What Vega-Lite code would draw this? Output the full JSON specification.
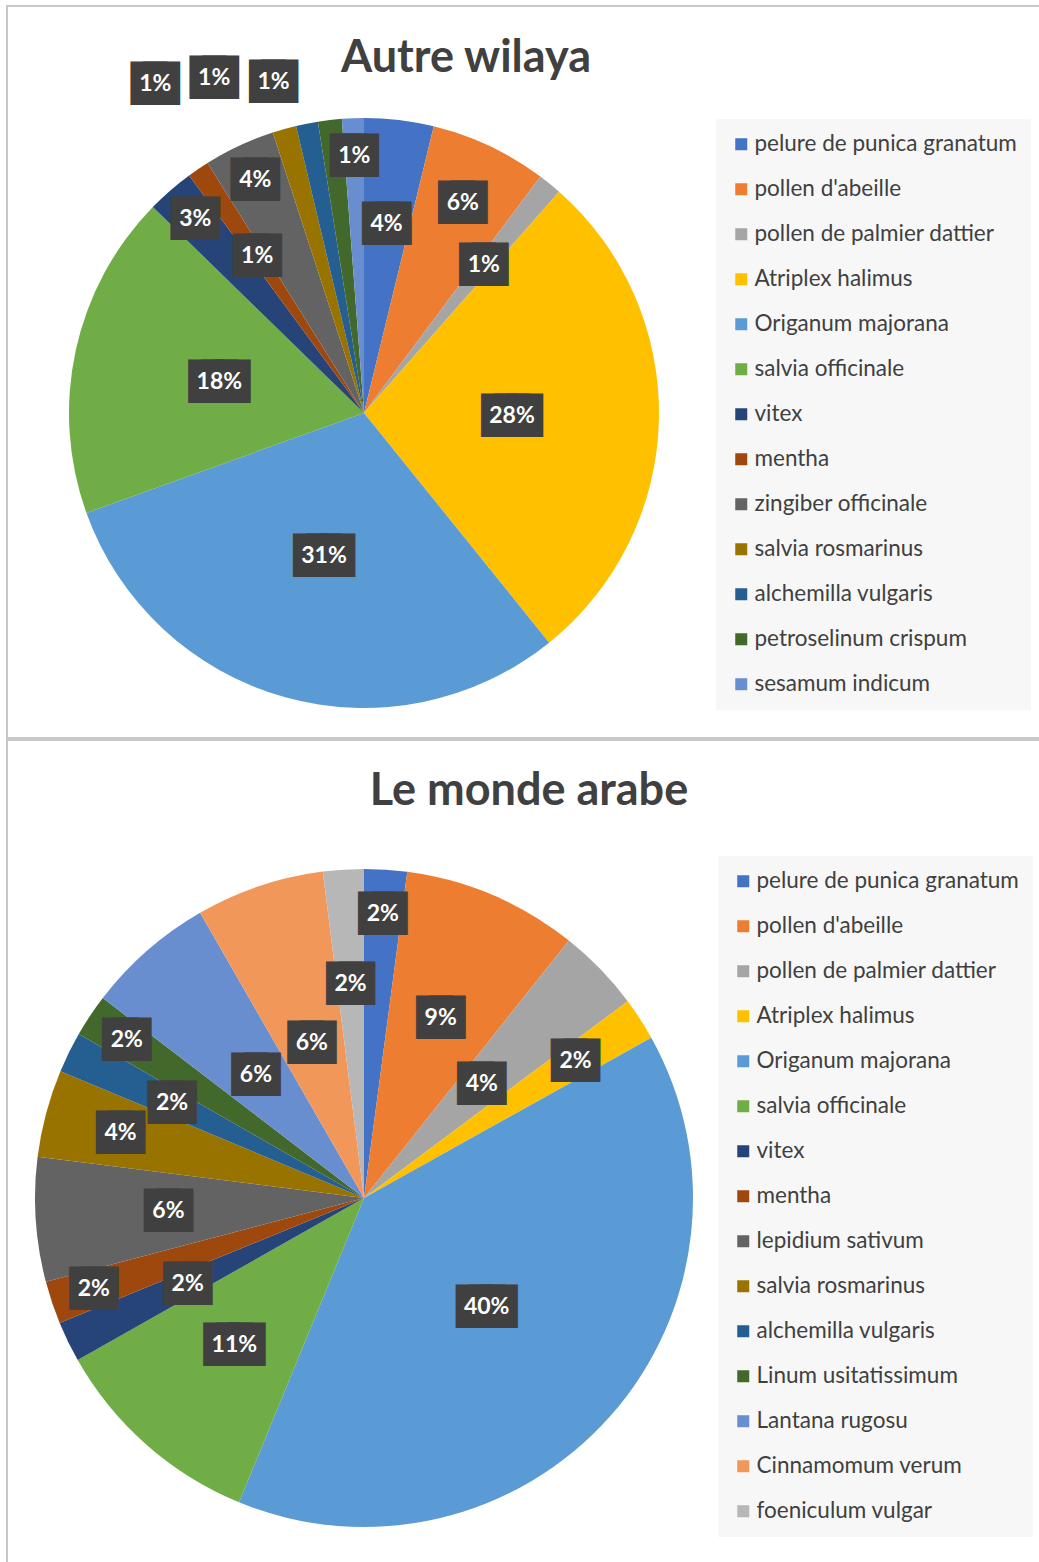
{
 "$schema": "https://vega.github.io/schema/vega-lite/v6.json",
 "background": "white",
 "padding": {"left": 6, "top": 5, "right": 0, "bottom": 0},
 "spacing": 0,
 "datasets": {
  "top": [
   {"name": "pelure de punica granatum", "value": 3.8, "pct": 4},
   {"name": "pollen d'abeille", "value": 6.4, "pct": 6},
   {"name": "pollen de palmier dattier", "value": 1.3, "pct": 1},
   {"name": "Atriplex halimus", "value": 27.7, "pct": 28},
   {"name": "Origanum majorana", "value": 30.3, "pct": 31},
   {"name": "salvia officinale", "value": 17.8, "pct": 18},
   {"name": "vitex", "value": 2.6, "pct": 3},
   {"name": "mentha", "value": 1.2, "pct": 1},
   {"name": "zingiber officinale", "value": 3.9, "pct": 4},
   {"name": "salvia rosmarinus", "value": 1.3, "pct": 1},
   {"name": "alchemilla vulgaris", "value": 1.2, "pct": 1},
   {"name": "petroselinum crispum", "value": 1.3, "pct": 1},
   {"name": "sesamum indicum", "value": 1.2, "pct": 1}
  ],
  "bottom": [
   {"name": "pelure de punica granatum", "value": 2.1, "pct": 2},
   {"name": "pollen d'abeille", "value": 8.6, "pct": 9},
   {"name": "pollen de palmier dattier", "value": 4.1, "pct": 4},
   {"name": "Atriplex halimus", "value": 2.1, "pct": 2},
   {"name": "Origanum majorana", "value": 39.3, "pct": 40},
   {"name": "salvia officinale", "value": 10.6, "pct": 11},
   {"name": "vitex", "value": 2.0, "pct": 2},
   {"name": "mentha", "value": 2.1, "pct": 2},
   {"name": "lepidium sativum", "value": 6.1, "pct": 6},
   {"name": "salvia rosmarinus", "value": 4.3, "pct": 4},
   {"name": "alchemilla vulgaris", "value": 2.0, "pct": 2},
   {"name": "Linum usitatissimum", "value": 2.1, "pct": 2},
   {"name": "Lantana rugosu", "value": 6.3, "pct": 6},
   {"name": "Cinnamomum verum", "value": 6.3, "pct": 6},
   {"name": "foeniculum vulgar", "value": 2.0, "pct": 2}
  ]
 },
 "vconcat": [
  {
   "width": 1034, "height": 732,
   "view": {"stroke": "#c8c8c8", "strokeWidth": 2},
   "title": {"text": "Autre wilaya", "font": "Lato", "fontSize": 45, "fontWeight": "bold", "color": "#404040", "anchor": "middle", "offset": -75, "dx": -58},
   "data": {"name": "top"},
   "transform": [
    {"window": [{"op": "row_number", "as": "idx"}]},
    {"stack": "value", "groupby": [], "sort": [{"field": "idx", "order": "ascending"}], "as": ["start", "end"]},
    {"calculate": "(datum.start + datum.end) / 2", "as": "mid"},
    {"calculate": "datum.pct + '%'", "as": "label"},
    {"calculate": "length(datum.label) > 2 ? '███' : '██'", "as": "box"}
   ],
   "layer": [
    {
     "mark": {"type": "arc", "x": 357, "y": 407, "outerRadius": 295},
     "encoding": {
      "theta": {"field": "start", "type": "quantitative", "stack": null, "scale": {"domain": [0, 100]}},
      "theta2": {"field": "end"},
      "color": {"field": "name", "type": "nominal",
       "scale": {"domain": ["pelure de punica granatum", "pollen d'abeille", "pollen de palmier dattier", "Atriplex halimus", "Origanum majorana", "salvia officinale", "vitex", "mentha", "zingiber officinale", "salvia rosmarinus", "alchemilla vulgaris", "petroselinum crispum", "sesamum indicum"],
        "range": ["#4472C4", "#ED7D31", "#A5A5A5", "#FFC000", "#5B9BD5", "#70AD47", "#264478", "#9E480E", "#636363", "#997300", "#255E91", "#43682B", "#698ED0"]},
       "legend": {"orient": "none", "legendX": 709, "legendY": 113}}
     }
    },
    {
     "transform": [{"filter": {"field": "name", "oneOf": ["Atriplex halimus", "Origanum majorana", "salvia officinale"]}}],
     "encoding": {"theta": {"field": "mid", "type": "quantitative", "stack": null, "scale": {"domain": [0, 100]}}},
     "layer": [
      {"mark": {"type": "text", "x": 357, "y": 407, "radius": 148, "font": "DejaVu Sans", "fontSize": 16.5, "color": "#404040", "stroke": "#404040", "strokeWidth": 24, "strokeJoin": "miter", "align": "center", "baseline": "middle"}, "encoding": {"text": {"field": "box"}}},
      {"mark": {"type": "text", "x": 357, "y": 407, "radius": 148, "font": "Lato", "fontSize": 23, "fontWeight": "bold", "color": "white", "align": "center", "baseline": "middle"}, "encoding": {"text": {"field": "label"}}}
     ]
    },
    {
     "transform": [{"filter": {"field": "name", "oneOf": ["pelure de punica granatum", "pollen de palmier dattier", "mentha"]}}],
     "encoding": {"theta": {"field": "mid", "type": "quantitative", "stack": null, "scale": {"domain": [0, 100]}}},
     "layer": [
      {"mark": {"type": "text", "x": 357, "y": 407, "radius": 190, "font": "DejaVu Sans", "fontSize": 16.5, "color": "#404040", "stroke": "#404040", "strokeWidth": 24, "strokeJoin": "miter", "align": "center", "baseline": "middle"}, "encoding": {"text": {"field": "box"}}},
      {"mark": {"type": "text", "x": 357, "y": 407, "radius": 190, "font": "Lato", "fontSize": 23, "fontWeight": "bold", "color": "white", "align": "center", "baseline": "middle"}, "encoding": {"text": {"field": "label"}}}
     ]
    },
    {
     "transform": [{"filter": {"field": "name", "oneOf": ["pollen d'abeille"]}}],
     "encoding": {"theta": {"field": "mid", "type": "quantitative", "stack": null, "scale": {"domain": [0, 100]}}},
     "layer": [
      {"mark": {"type": "text", "x": 357, "y": 407, "radius": 232, "font": "DejaVu Sans", "fontSize": 16.5, "color": "#404040", "stroke": "#404040", "strokeWidth": 24, "strokeJoin": "miter", "align": "center", "baseline": "middle"}, "encoding": {"text": {"field": "box"}}},
      {"mark": {"type": "text", "x": 357, "y": 407, "radius": 232, "font": "Lato", "fontSize": 23, "fontWeight": "bold", "color": "white", "align": "center", "baseline": "middle"}, "encoding": {"text": {"field": "label"}}}
     ]
    },
    {
     "transform": [{"filter": {"field": "name", "oneOf": ["vitex", "zingiber officinale", "sesamum indicum"]}}],
     "encoding": {"theta": {"field": "mid", "type": "quantitative", "stack": null, "scale": {"domain": [0, 100]}}},
     "layer": [
      {"mark": {"type": "text", "x": 357, "y": 407, "radius": 257, "font": "DejaVu Sans", "fontSize": 16.5, "color": "#404040", "stroke": "#404040", "strokeWidth": 24, "strokeJoin": "miter", "align": "center", "baseline": "middle"}, "encoding": {"text": {"field": "box"}}},
      {"mark": {"type": "text", "x": 357, "y": 407, "radius": 257, "font": "Lato", "fontSize": 23, "fontWeight": "bold", "color": "white", "align": "center", "baseline": "middle"}, "encoding": {"text": {"field": "label"}}}
     ]
    },
    {
     "transform": [{"filter": {"field": "name", "oneOf": ["salvia rosmarinus"]}}],
     "encoding": {"theta": {"field": "mid", "type": "quantitative", "stack": null, "scale": {"domain": [0, 100]}}},
     "layer": [
      {"mark": {"type": "text", "x": 357, "y": 407, "radius": 340, "dx": -117, "dy": -2, "font": "DejaVu Sans", "fontSize": 16.5, "color": "#404040", "stroke": "#404040", "strokeWidth": 24, "strokeJoin": "miter", "align": "center", "baseline": "middle"}, "encoding": {"text": {"field": "box"}}},
      {"mark": {"type": "text", "x": 357, "y": 407, "radius": 340, "dx": -117, "dy": -2, "font": "Lato", "fontSize": 23, "fontWeight": "bold", "color": "white", "align": "center", "baseline": "middle"}, "encoding": {"text": {"field": "label"}}}
     ]
    },
    {
     "transform": [{"filter": {"field": "name", "oneOf": ["alchemilla vulgaris"]}}],
     "encoding": {"theta": {"field": "mid", "type": "quantitative", "stack": null, "scale": {"domain": [0, 100]}}},
     "layer": [
      {"mark": {"type": "text", "x": 357, "y": 407, "radius": 340, "dx": -84, "dy": -1, "font": "DejaVu Sans", "fontSize": 16.5, "color": "#404040", "stroke": "#404040", "strokeWidth": 24, "strokeJoin": "miter", "align": "center", "baseline": "middle"}, "encoding": {"text": {"field": "box"}}},
      {"mark": {"type": "text", "x": 357, "y": 407, "radius": 340, "dx": -84, "dy": -1, "font": "Lato", "fontSize": 23, "fontWeight": "bold", "color": "white", "align": "center", "baseline": "middle"}, "encoding": {"text": {"field": "label"}}}
     ]
    },
    {
     "transform": [{"filter": {"field": "name", "oneOf": ["petroselinum crispum"]}}],
     "encoding": {"theta": {"field": "mid", "type": "quantitative", "stack": null, "scale": {"domain": [0, 100]}}},
     "layer": [
      {"mark": {"type": "text", "x": 357, "y": 407, "radius": 340, "dx": -51, "dy": 7, "font": "DejaVu Sans", "fontSize": 16.5, "color": "#404040", "stroke": "#404040", "strokeWidth": 24, "strokeJoin": "miter", "align": "center", "baseline": "middle"}, "encoding": {"text": {"field": "box"}}},
      {"mark": {"type": "text", "x": 357, "y": 407, "radius": 340, "dx": -51, "dy": 7, "font": "Lato", "fontSize": 23, "fontWeight": "bold", "color": "white", "align": "center", "baseline": "middle"}, "encoding": {"text": {"field": "label"}}}
     ]
    }
   ]
  },
  {
   "width": 1034, "height": 826,
   "view": {"stroke": "#c8c8c8", "strokeWidth": 2},
   "title": {"text": "Le monde arabe", "font": "Lato", "fontSize": 45, "fontWeight": "bold", "color": "#404040", "anchor": "middle", "offset": -74, "dx": 5},
   "data": {"name": "bottom"},
   "transform": [
    {"window": [{"op": "row_number", "as": "idx"}]},
    {"stack": "value", "groupby": [], "sort": [{"field": "idx", "order": "ascending"}], "as": ["start", "end"]},
    {"calculate": "(datum.start + datum.end) / 2", "as": "mid"},
    {"calculate": "datum.pct + '%'", "as": "label"},
    {"calculate": "length(datum.label) > 2 ? '███' : '██'", "as": "box"}
   ],
   "layer": [
    {
     "mark": {"type": "arc", "x": 357, "y": 458, "outerRadius": 329},
     "encoding": {
      "theta": {"field": "start", "type": "quantitative", "stack": null, "scale": {"domain": [0, 100]}},
      "theta2": {"field": "end"},
      "color": {"field": "name", "type": "nominal",
       "scale": {"domain": ["pelure de punica granatum", "pollen d'abeille", "pollen de palmier dattier", "Atriplex halimus", "Origanum majorana", "salvia officinale", "vitex", "mentha", "lepidium sativum", "salvia rosmarinus", "alchemilla vulgaris", "Linum usitatissimum", "Lantana rugosu", "Cinnamomum verum", "foeniculum vulgar"],
        "range": ["#4472C4", "#ED7D31", "#A5A5A5", "#FFC000", "#5B9BD5", "#70AD47", "#264478", "#9E480E", "#636363", "#997300", "#255E91", "#43682B", "#698ED0", "#F1975A", "#B7B7B7"]},
       "legend": {"orient": "none", "legendX": 711, "legendY": 116}}
     }
    },
    {
     "transform": [{"filter": {"field": "name", "oneOf": ["pelure de punica granatum", "Linum usitatissimum", "mentha"]}}],
     "encoding": {"theta": {"field": "mid", "type": "quantitative", "stack": null, "scale": {"domain": [0, 100]}}},
     "layer": [
      {"mark": {"type": "text", "x": 357, "y": 458, "radius": 285, "font": "DejaVu Sans", "fontSize": 16.5, "color": "#404040", "stroke": "#404040", "strokeWidth": 24, "strokeJoin": "miter", "align": "center", "baseline": "middle"}, "encoding": {"text": {"field": "box"}}},
      {"mark": {"type": "text", "x": 357, "y": 458, "radius": 285, "font": "Lato", "fontSize": 23, "fontWeight": "bold", "color": "white", "align": "center", "baseline": "middle"}, "encoding": {"text": {"field": "label"}}}
     ]
    },
    {
     "transform": [{"filter": {"field": "name", "oneOf": ["pollen d'abeille", "salvia officinale", "vitex", "lepidium sativum"]}}],
     "encoding": {"theta": {"field": "mid", "type": "quantitative", "stack": null, "scale": {"domain": [0, 100]}}},
     "layer": [
      {"mark": {"type": "text", "x": 357, "y": 458, "radius": 196, "font": "DejaVu Sans", "fontSize": 16.5, "color": "#404040", "stroke": "#404040", "strokeWidth": 24, "strokeJoin": "miter", "align": "center", "baseline": "middle"}, "encoding": {"text": {"field": "box"}}},
      {"mark": {"type": "text", "x": 357, "y": 458, "radius": 196, "font": "Lato", "fontSize": 23, "fontWeight": "bold", "color": "white", "align": "center", "baseline": "middle"}, "encoding": {"text": {"field": "label"}}}
     ]
    },
    {
     "transform": [{"filter": {"field": "name", "oneOf": ["alchemilla vulgaris", "foeniculum vulgar"]}}],
     "encoding": {"theta": {"field": "mid", "type": "quantitative", "stack": null, "scale": {"domain": [0, 100]}}},
     "layer": [
      {"mark": {"type": "text", "x": 357, "y": 458, "radius": 214, "font": "DejaVu Sans", "fontSize": 16.5, "color": "#404040", "stroke": "#404040", "strokeWidth": 24, "strokeJoin": "miter", "align": "center", "baseline": "middle"}, "encoding": {"text": {"field": "box"}}},
      {"mark": {"type": "text", "x": 357, "y": 458, "radius": 214, "font": "Lato", "fontSize": 23, "fontWeight": "bold", "color": "white", "align": "center", "baseline": "middle"}, "encoding": {"text": {"field": "label"}}}
     ]
    },
    {
     "transform": [{"filter": {"field": "name", "oneOf": ["pollen de palmier dattier", "Origanum majorana", "Lantana rugosu", "Cinnamomum verum"]}}],
     "encoding": {"theta": {"field": "mid", "type": "quantitative", "stack": null, "scale": {"domain": [0, 100]}}},
     "layer": [
      {"mark": {"type": "text", "x": 357, "y": 458, "radius": 164, "font": "DejaVu Sans", "fontSize": 16.5, "color": "#404040", "stroke": "#404040", "strokeWidth": 24, "strokeJoin": "miter", "align": "center", "baseline": "middle"}, "encoding": {"text": {"field": "box"}}},
      {"mark": {"type": "text", "x": 357, "y": 458, "radius": 164, "font": "Lato", "fontSize": 23, "fontWeight": "bold", "color": "white", "align": "center", "baseline": "middle"}, "encoding": {"text": {"field": "label"}}}
     ]
    },
    {
     "transform": [{"filter": {"field": "name", "oneOf": ["Atriplex halimus", "salvia rosmarinus"]}}],
     "encoding": {"theta": {"field": "mid", "type": "quantitative", "stack": null, "scale": {"domain": [0, 100]}}},
     "layer": [
      {"mark": {"type": "text", "x": 357, "y": 458, "radius": 252, "font": "DejaVu Sans", "fontSize": 16.5, "color": "#404040", "stroke": "#404040", "strokeWidth": 24, "strokeJoin": "miter", "align": "center", "baseline": "middle"}, "encoding": {"text": {"field": "box"}}},
      {"mark": {"type": "text", "x": 357, "y": 458, "radius": 252, "font": "Lato", "fontSize": 23, "fontWeight": "bold", "color": "white", "align": "center", "baseline": "middle"}, "encoding": {"text": {"field": "label"}}}
     ]
    }
   ]
  }
 ],
 "resolve": {"scale": {"color": "independent", "theta": "independent"}, "legend": {"color": "independent"}},
 "config": {
  "view": {"stroke": "#c8c8c8", "strokeWidth": 2},
  "legend": {"title": null, "symbolType": "square", "symbolSize": 144, "symbolStrokeWidth": 0, "labelFont": "Lato", "labelFontSize": 22.5, "labelColor": "#404040", "rowPadding": 22, "padding": 14, "fillColor": "#f7f7f7", "labelOffset": 2, "labelLimit": 400}
 }
}
